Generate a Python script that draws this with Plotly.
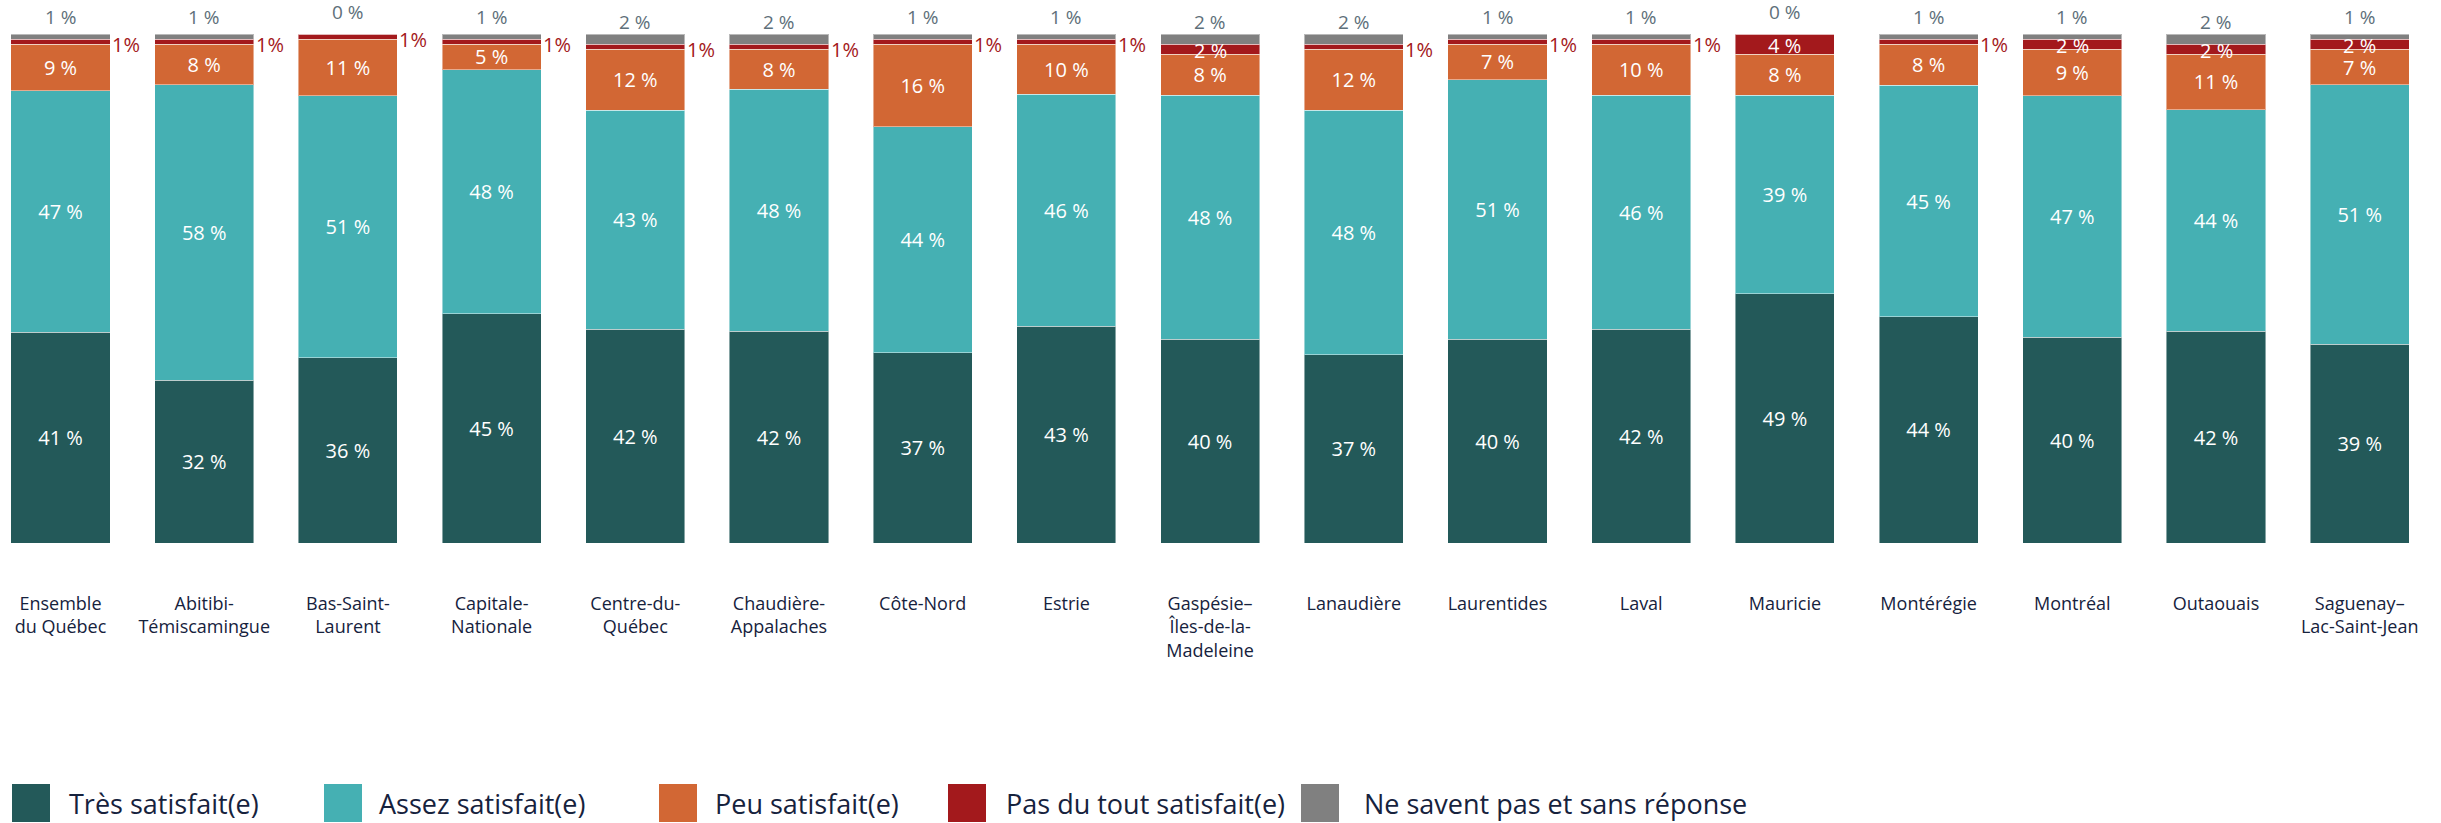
import plotly.graph_objects as go

# ---------------- data ----------------
regions = [
    "Ensemble<br>du Québec", "Abitibi-<br>Témiscamingue", "Bas-Saint-<br>Laurent",
    "Capitale-<br>Nationale", "Centre-du-<br>Québec", "Chaudière-<br>Appalaches",
    "Côte-Nord", "Estrie", "Gaspésie–<br>Îles-de-la-<br>Madeleine", "Lanaudière",
    "Laurentides", "Laval", "Mauricie", "Montérégie", "Montréal", "Outaouais",
    "Saguenay–<br>Lac-Saint-Jean",
]
tres = [41, 32, 36, 45, 42, 42, 37, 43, 40, 37, 40, 42, 49, 44, 40, 42, 39]
assez = [47, 58, 51, 48, 43, 48, 44, 46, 48, 48, 51, 46, 39, 45, 47, 44, 51]
peu = [9, 8, 11, 5, 12, 8, 16, 10, 8, 12, 7, 10, 8, 8, 9, 11, 7]
pas_du_tout = [1, 1, 1, 1, 1, 1, 1, 1, 2, 1, 1, 1, 4, 1, 2, 2, 2]
nsp = [1, 1, 0, 1, 2, 2, 1, 1, 2, 2, 1, 1, 0, 1, 1, 2, 1]

series_names = ["Très satisfait(e)", "Assez satisfait(e)", "Peu satisfait(e)",
                "Pas du tout satisfait(e)", "Ne savent pas et sans réponse"]
colors = ["#235959", "#45B0B3", "#D26734", "#A3191C", "#808080"]

# ---------------- layout constants ----------------
W, H = 2441, 823
PLOT_TOP, PLOT_BOTTOM = 34, 543
FONT = "Open Sans"
NAVY = "#16223D"
GRAY_TXT = "#5E6F7A"
RED_TXT = "#A3191C"
BAR_W = 0.69

x = list(range(len(regions)))
all_series = [tres, assez, peu, pas_du_tout, nsp]

fig = go.Figure()
for k, (name, vals, col) in enumerate(zip(series_names, all_series, colors)):
    show_text = k < 3
    fig.add_trace(go.Bar(
        x=x, y=vals, name=name, width=BAR_W,
        marker=dict(color=col, line=dict(color="rgba(255,255,255,0.45)", width=1)),
        text=[f"{v} %" for v in vals] if show_text else None,
        textposition="inside" if show_text else "none",
        insidetextanchor="middle",
        textangle=0,
        textfont=dict(family=FONT, size=20, color="white"),
        hoverinfo="skip",
        showlegend=False,
    ))

annotations = []
for i in x:
    total = tres[i] + assez[i] + peu[i] + pas_du_tout[i] + nsp[i]
    base_red = (tres[i] + assez[i] + peu[i]) / total * 100
    red_top = base_red + pas_du_tout[i] / total * 100
    red_mid = base_red + pas_du_tout[i] / total * 50
    # gray (no answer) label above bar
    annotations.append(dict(
        x=i, y=red_top, xref="x", yref="y", text=f"{nsp[i]} %",
        showarrow=False, yanchor="middle", xanchor="center", yshift=22,
        font=dict(family=FONT, size=19, color=GRAY_TXT)))
    # red label
    if pas_du_tout[i] >= 2:
        annotations.append(dict(
            x=i, y=red_mid, xref="x", yref="y", text=f"{pas_du_tout[i]} %",
            showarrow=False, yanchor="middle", xanchor="center", yshift=-1,
            font=dict(family=FONT, size=20, color="white")))
    else:
        annotations.append(dict(
            x=i + BAR_W / 2, y=red_mid, xref="x", yref="y", text=f"{pas_du_tout[i]}%",
            showarrow=False, yanchor="middle", xanchor="left", xshift=0, yshift=-3,
            font=dict(family=FONT, size=20, color=RED_TXT)))

# manual legend (big squares)
plot_h = PLOT_BOTTOM - PLOT_TOP
def py(pix):
    return (PLOT_BOTTOM - pix) / plot_h

legend_sq_x = [12, 324, 659, 948, 1301]
legend_txt_x = [67, 377, 713, 1004, 1362]
SQ = 38
shapes = []
for sx, tx, name, col in zip(legend_sq_x, legend_txt_x, series_names, colors):
    shapes.append(dict(type="rect", xref="paper", yref="paper",
                       x0=sx / W, x1=(sx + SQ) / W, y0=py(822), y1=py(784),
                       fillcolor=col, line=dict(width=0)))
    annotations.append(dict(
        x=tx / W, y=py(803), xref="paper", yref="paper", text=name,
        showarrow=False, xanchor="left", yanchor="middle",
        font=dict(family=FONT, size=27, color=NAVY)))

px_per_cat = 143.7
first_center = 60.5
fig.update_layout(
    width=W, height=H,
    margin=dict(l=0, r=0, t=PLOT_TOP, b=H - PLOT_BOTTOM, pad=0),
    barmode="stack", barnorm="percent",
    plot_bgcolor="white", paper_bgcolor="white",
    font=dict(family=FONT, color=NAVY),
    uniformtext=dict(minsize=19, mode="show"),
    xaxis=dict(
        tickmode="array", tickvals=x, ticktext=regions,
        range=[-first_center / px_per_cat, (W - first_center) / px_per_cat],
        showgrid=False, zeroline=False, showline=False, ticks="",
        tickfont=dict(family=FONT, size=18, color=NAVY),
        ticklabelstandoff=48,
    ),
    yaxis=dict(visible=False, range=[0, 100]),
    annotations=annotations, shapes=shapes,
    showlegend=False,
)

fig.write_html(
    "out.html",
    config={"displayModeBar": False},
    post_script="document.body.style.margin='0';document.body.style.overflow='hidden';",
)
